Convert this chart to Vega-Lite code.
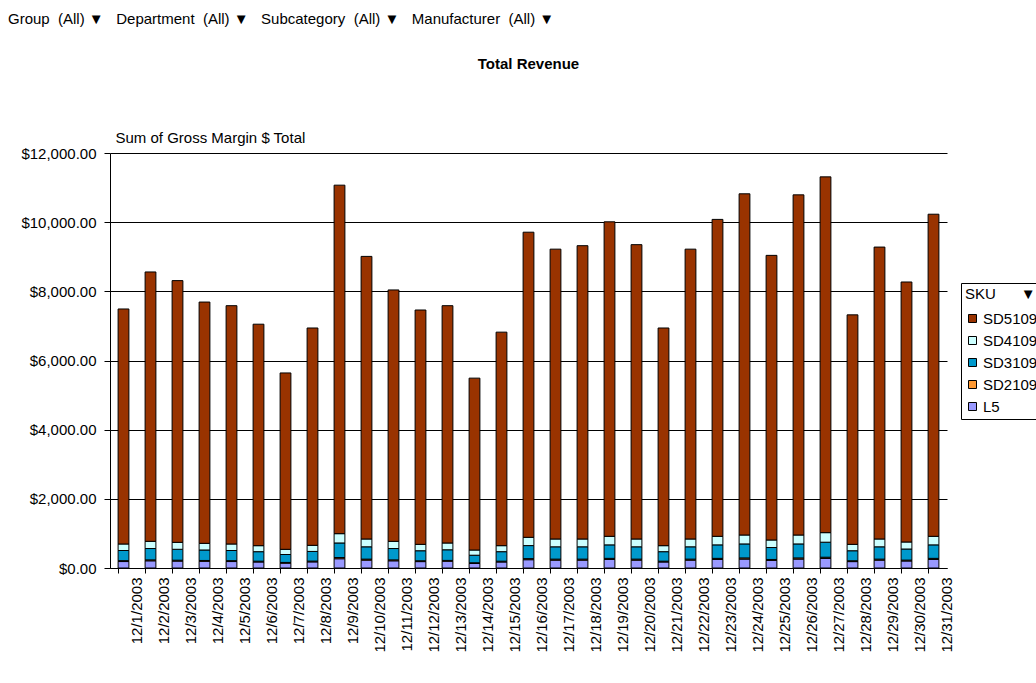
{
  "$schema": "https://vega.github.io/schema/vega-lite/v6.json",
  "width": 837,
  "height": 415,
  "autosize": {"type": "none"},
  "padding": {"left": 110, "top": 153, "right": 89, "bottom": 115},
  "background": "white",
  "title": {
    "text": "Group\u00a0\u00a0(All)\u00a0▼\u00a0\u00a0\u00a0Department\u00a0\u00a0(All)\u00a0▼\u00a0\u00a0\u00a0Subcategory\u00a0\u00a0(All)\u00a0▼\u00a0\u00a0\u00a0Manufacturer\u00a0\u00a0(All)\u00a0▼",
    "font": "Liberation Sans",
    "fontSize": 15,
    "fontWeight": "normal",
    "color": "black",
    "anchor": "start",
    "frame": "group",
    "dx": -102,
    "offset": 29
  },
  "config": {
    "view": {"stroke": null},
    "axis": {"labelFont": "Liberation Sans", "titleFont": "Liberation Sans", "labelColor": "black", "titleColor": "black"},
    "legend": {"labelFont": "Liberation Sans", "titleFont": "Liberation Sans"}
  },
  "data": {
    "values": [
      {"date": "12/1/2003", "L5": 187, "SD2109": 25, "SD3109": 294, "SD4109": 188, "SD5109": 6796},
      {"date": "12/2/2003", "L5": 208, "SD2109": 27, "SD3109": 328, "SD4109": 208, "SD5109": 7789},
      {"date": "12/3/2003", "L5": 200, "SD2109": 26, "SD3109": 315, "SD4109": 201, "SD5109": 7568},
      {"date": "12/4/2003", "L5": 193, "SD2109": 25, "SD3109": 303, "SD4109": 192, "SD5109": 6977},
      {"date": "12/5/2003", "L5": 187, "SD2109": 25, "SD3109": 294, "SD4109": 188, "SD5109": 6891},
      {"date": "12/6/2003", "L5": 174, "SD2109": 23, "SD3109": 275, "SD4109": 174, "SD5109": 6404},
      {"date": "12/7/2003", "L5": 140, "SD2109": 21, "SD3109": 229, "SD4109": 150, "SD5109": 5100},
      {"date": "12/8/2003", "L5": 177, "SD2109": 23, "SD3109": 279, "SD4109": 177, "SD5109": 6284},
      {"date": "12/9/2003", "L5": 268, "SD2109": 35, "SD3109": 421, "SD4109": 269, "SD5109": 10077},
      {"date": "12/10/2003", "L5": 227, "SD2109": 30, "SD3109": 356, "SD4109": 226, "SD5109": 8171},
      {"date": "12/11/2003", "L5": 208, "SD2109": 27, "SD3109": 328, "SD4109": 208, "SD5109": 7269},
      {"date": "12/12/2003", "L5": 185, "SD2109": 24, "SD3109": 290, "SD4109": 185, "SD5109": 6776},
      {"date": "12/13/2003", "L5": 195, "SD2109": 25, "SD3109": 307, "SD4109": 196, "SD5109": 6862},
      {"date": "12/14/2003", "L5": 130, "SD2109": 21, "SD3109": 219, "SD4109": 150, "SD5109": 4970},
      {"date": "12/15/2003", "L5": 174, "SD2109": 23, "SD3109": 275, "SD4109": 174, "SD5109": 6174},
      {"date": "12/16/2003", "L5": 240, "SD2109": 31, "SD3109": 377, "SD4109": 239, "SD5109": 8823},
      {"date": "12/17/2003", "L5": 227, "SD2109": 30, "SD3109": 356, "SD4109": 226, "SD5109": 8381},
      {"date": "12/18/2003", "L5": 227, "SD2109": 30, "SD3109": 356, "SD4109": 226, "SD5109": 8481},
      {"date": "12/19/2003", "L5": 247, "SD2109": 32, "SD3109": 390, "SD4109": 247, "SD5109": 9094},
      {"date": "12/20/2003", "L5": 227, "SD2109": 30, "SD3109": 356, "SD4109": 226, "SD5109": 8511},
      {"date": "12/21/2003", "L5": 174, "SD2109": 23, "SD3109": 275, "SD4109": 174, "SD5109": 6294},
      {"date": "12/22/2003", "L5": 227, "SD2109": 30, "SD3109": 356, "SD4109": 226, "SD5109": 8381},
      {"date": "12/23/2003", "L5": 247, "SD2109": 32, "SD3109": 390, "SD4109": 247, "SD5109": 9164},
      {"date": "12/24/2003", "L5": 258, "SD2109": 33, "SD3109": 405, "SD4109": 258, "SD5109": 9866},
      {"date": "12/25/2003", "L5": 219, "SD2109": 28, "SD3109": 345, "SD4109": 218, "SD5109": 8230},
      {"date": "12/26/2003", "L5": 258, "SD2109": 33, "SD3109": 405, "SD4109": 258, "SD5109": 9836},
      {"date": "12/27/2003", "L5": 276, "SD2109": 36, "SD3109": 434, "SD4109": 276, "SD5109": 10288},
      {"date": "12/28/2003", "L5": 185, "SD2109": 24, "SD3109": 290, "SD4109": 185, "SD5109": 6636},
      {"date": "12/29/2003", "L5": 227, "SD2109": 30, "SD3109": 356, "SD4109": 226, "SD5109": 8441},
      {"date": "12/30/2003", "L5": 203, "SD2109": 26, "SD3109": 320, "SD4109": 203, "SD5109": 7518},
      {"date": "12/31/2003", "L5": 247, "SD2109": 32, "SD3109": 390, "SD4109": 247, "SD5109": 9314}
    ]
  },
  "transform": [
    {"fold": ["L5", "SD2109", "SD3109", "SD4109", "SD5109"], "as": ["SKU", "value"]}
  ],
  "mark": {"type": "bar", "stroke": "black", "strokeWidth": 1},
  "encoding": {
    "x": {
      "field": "date",
      "type": "nominal",
      "sort": null,
      "scale": {"paddingInner": 0.6, "paddingOuter": 0.3},
      "axis": {
        "title": "Total Revenue",
        "titleFont": "Liberation Sans",
        "titleFontSize": 15,
        "titleFontWeight": "bold",
        "titleAnchor": "middle",
        "titleAlign": "center",
        "titleBaseline": "middle",
        "titleX": 418,
        "titleY": -505,
        "labelAngle": -90,
        "labelAlign": "right",
        "labelBaseline": "middle",
        "labelFontSize": 15,
        "labelPadding": 4,
        "labelOffset": 13.5,
        "bandPosition": 0,
        "domainColor": "black",
        "tickColor": "black",
        "tickSize": 5,
        "grid": false
      }
    },
    "y": {
      "field": "value",
      "type": "quantitative",
      "aggregate": "sum",
      "stack": "zero",
      "scale": {"domain": [0, 12000], "nice": false},
      "axis": {
        "values": [0, 2000, 4000, 6000, 8000, 10000, 12000],
        "format": "$,.2f",
        "title": "Sum of Gross Margin $ Total",
        "titleAngle": 0,
        "titleAlign": "left",
        "titleBaseline": "middle",
        "titleFontSize": 15,
        "titleFontWeight": "normal",
        "titleX": 5,
        "titleY": -16,
        "labelFontSize": 15,
        "labelPadding": 8,
        "domainColor": "black",
        "tickColor": "black",
        "tickSize": 6,
        "grid": true,
        "gridColor": "black",
        "gridOpacity": 1,
        "gridWidth": 1
      }
    },
    "color": {
      "field": "SKU",
      "type": "nominal",
      "scale": {
        "domain": ["SD5109", "SD4109", "SD3109", "SD2109", "L5"],
        "range": ["#993300", "#CCFFFF", "#0099CC", "#FF9933", "#9999FF"]
      },
      "legend": {
        "orient": "none",
        "legendX": 851,
        "legendY": 130,
        "title": "SKU\u00a0\u00a0\u00a0\u00a0\u00a0\u00a0▼",
        "titleFontSize": 15,
        "titleFontWeight": "normal",
        "titleColor": "black",
        "titlePadding": 9,
        "labelFontSize": 15,
        "labelColor": "black",
        "labelOffset": 3,
        "symbolType": "square",
        "symbolSize": 64,
        "symbolStrokeColor": "black",
        "symbolStrokeWidth": 1,
        "rowPadding": 6,
        "fillColor": "white",
        "strokeColor": "black",
        "padding": 4
      }
    },
    "order": {"field": "SKU", "sort": "ascending"}
  }
}
